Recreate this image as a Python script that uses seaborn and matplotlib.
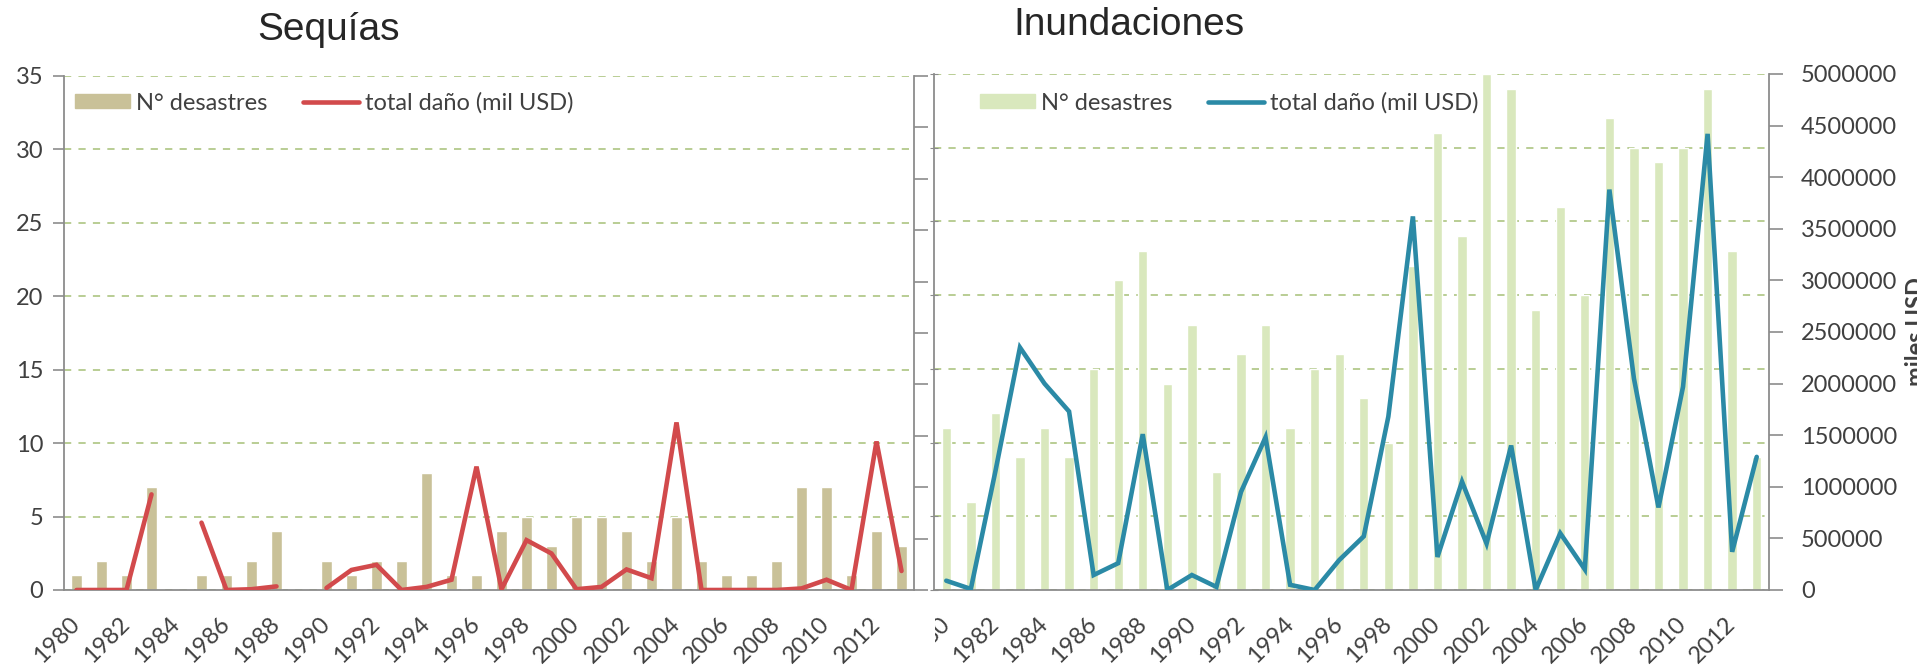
import numpy as np
import pandas as pd
import seaborn as sns
import matplotlib.pyplot as plt
from matplotlib.patches import Patch
from matplotlib.lines import Line2D
from matplotlib.transforms import Bbox, TransformedBbox

# Datos
years = list(range(1980, 2014))

# Sequias: numero de desastres y dano total (eje secundario sin etiquetas)
seq_count = [1, 2, 1, 7, 0, 1, 1, 2, 4, 0, 2, 1, 2, 2, 8, 1, 1,
             4, 5, 3, 5, 5, 4, 2, 5, 2, 1, 1, 2, 7, 7, 1, 4, 3]
seq_dmg = [0, 0, 0, 186000, np.nan, 131000, 0, 1500, 7000, np.nan,
           4000, 39000, 49000, 0, 6000, 20000, 240000, 1500, 97000, 71000,
           1500, 6000, 40000, 23000, 326000, 0, 0, 0, 0, 3000,
           20000, 0, 289000, 37000]

# Inundaciones
inu_count = [11, 6, 12, 9, 11, 9, 15, 21, 23, 14, 18, 8, 16, 18, 11, 15, 16,
             13, 10, 22, 31, 24, 35, 34, 19, 26, 20, 32, 30, 29, 30, 34, 23, 9]
inu_dmg = [90000, 10000, 1150000, 2350000, 2000000, 1730000, 145000, 260000,
           1510000, 0, 145000, 30000, 950000, 1480000, 50000, 0, 290000,
           520000, 1680000, 3620000, 320000, 1050000, 450000, 1400000, 0,
           550000, 200000, 3880000, 2050000, 800000, 1970000, 4420000,
           370000, 1290000]

legend_labels = ["N° desastres", "total daño (mil USD)"]

sns.set_style("white")
plt.rcParams["font.family"] = ["Lato", "DejaVu Sans"]

W, H = 1917, 665
fig = plt.figure(figsize=(W / 100, H / 100), dpi=100)

gray = "#8c8c8c"
txt = "#404040"
grid_c = "#b3c98b"


def panel(rect, counts, dmg, bar_color, line_color, width, dmg_max, right_labels):
    ax = fig.add_axes(rect)
    df = pd.DataFrame({"year": [str(y) for y in years], "n": counts})
    sns.barplot(data=df, x="year", y="n", color=bar_color, saturation=1,
                width=width, ax=ax)
    ax.set_ylim(0, 35)
    ax.set_yticks(range(0, 36, 5))
    ax.set_xlim(-0.5, len(years) - 0.5)
    ax.set_axisbelow(True)
    ax.yaxis.grid(True, linestyle=(0, (4, 4)), color=grid_c, lw=1.3)
    ax.set_xlabel("")
    ax.set_ylabel("")
    ax.set_xticks(range(0, len(years), 2))
    ax.set_xticklabels([str(y) for y in years[::2]], rotation=45, ha="right",
                       va="center", rotation_mode="anchor")
    ax.set_xticks(np.arange(-0.5, len(years), 1), minor=True)
    ax.tick_params(axis="x", which="major", length=0, pad=22, labelsize=17,
                   labelcolor=txt)
    ax.tick_params(axis="x", which="minor", length=10, color=gray, width=1.2)
    for s in ["top", "right"]:
        ax.spines[s].set_visible(False)
    for s in ["left", "bottom"]:
        ax.spines[s].set_color(gray)
        ax.spines[s].set_linewidth(1.3)

    ax2 = ax.twinx()
    ax2.plot(range(len(years)), dmg, color=line_color, lw=3.3,
             solid_joinstyle="miter")
    ax2.set_ylim(0, dmg_max)
    ax2.set_yticks(np.linspace(0, dmg_max, 11))
    ax2.set_yticklabels([f"{int(v)}" for v in np.linspace(0, dmg_max, 11)])
    for s in ["top", "left", "bottom"]:
        ax2.spines[s].set_visible(False)
    ax2.spines["right"].set_color(gray)
    ax2.spines["right"].set_linewidth(1.3)
    ax2.tick_params(axis="y", length=10, color=gray, width=1.2, pad=13,
                    labelsize=17, labelcolor=txt, labelright=right_labels)
    ax2.grid(False)

    handles = [Patch(color=bar_color),
               Line2D([], [], color=line_color, lw=3.3)]
    return ax, ax2, handles


# Sequias
ax_s, ax_s2, h_s = panel([64 / W, 1 - 590 / H, 850 / W, 514 / H],
                         seq_count, seq_dmg, "#c9c198", "#d24a4c", 0.44,
                         1000000, False)
ax_s.tick_params(axis="y", length=8, color=gray, width=1.2, pad=7,
                 labelsize=17, labelcolor=txt)

# Inundaciones
ax_i, ax_i2, h_i = panel([934 / W, 1 - 590 / H, 835 / W, 516 / H],
                         inu_count, inu_dmg, "#d9e8bd", "#2b8aa6", 0.38,
                         5000000, True)
ax_i.tick_params(axis="y", length=6, direction="inout", color=gray,
                 labelleft=False)

# la etiqueta 1980 del segundo grafico queda cortada por el primero
clip = TransformedBbox(Bbox([[935 / W, 0], [1, 1]]), fig.transFigure)
first = ax_i.get_xticklabels()[0]
first.set_clip_box(clip)
first.set_clip_on(True)

for ax2, h, x0 in [(ax_s2, h_s, 75), (ax_i2, h_i, 980)]:
    leg = ax2.legend(h, legend_labels, ncol=2, frameon=False, loc="upper left",
                     bbox_to_anchor=(x0 / W, 1 - 92 / H),
                     bbox_transform=fig.transFigure, borderpad=0,
                     borderaxespad=0, handlelength=2.35, handleheight=0.55,
                     handletextpad=0.25, columnspacing=1.5, fontsize=17)
    for t in leg.get_texts():
        t.set_color(txt)

fig.text(328 / W, 1 - 30 / H, "Sequías", ha="center", va="center",
         fontsize=28, family="Liberation Sans")
fig.text(1129 / W, 1 - 25 / H, "Inundaciones", ha="center", va="center",
         fontsize=28, family="Liberation Sans")
fig.text(1905 / W, 1 - 332 / H, "miles USD", rotation=90, ha="left",
         va="center", fontsize=17, fontweight="bold", color=txt)

fig.savefig("out.png", dpi=100)
